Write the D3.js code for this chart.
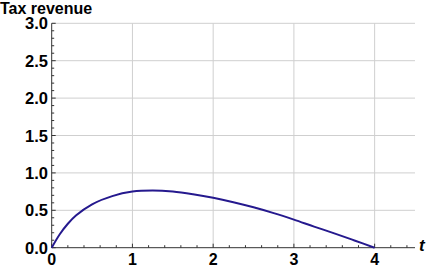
<!DOCTYPE html>
<html>
<head>
<meta charset="utf-8">
<script src="https://cdn.jsdelivr.net/npm/d3@7"></script>
<style>
  body { margin: 0; background: #fff; }
  text { font-family: "Liberation Sans", Arial, sans-serif; }
</style>
</head>
<body>
<script>
// values
const tValues = [0, 0.1, 0.2, 0.3, 0.5, 0.75, 1, 1.25, 1.5, 1.75, 2, 2.25, 2.5, 2.75, 3, 3.25, 3.5, 3.75, 4];
const revenue = [0, 0.18, 0.32, 0.43, 0.58, 0.69, 0.75, 0.764, 0.75, 0.714, 0.667, 0.608, 0.54, 0.462, 0.375, 0.282, 0.192, 0.097, 0];
const xTicks = [0, 1, 2, 3, 4];
const yTicks = [0, 0.5, 1, 1.5, 2, 2.5, 3];

const width = 431, height = 267;
const svg = d3.select("body").append("svg")
  .attr("width", width)
  .attr("height", height);

const x = d3.scaleLinear().domain([0, 4.5]).range([51.7, 415]);
const y = d3.scaleLinear().domain([0, 3]).range([247.7, 23.3]);

// grid
svg.append("g").selectAll("line")
  .data(xTicks.slice(1))
  .join("line")
  .attr("x1", d => x(d)).attr("x2", d => x(d))
  .attr("y1", y(0)).attr("y2", y(3))
  .attr("stroke", "#cfcfcf").attr("stroke-width", 1);

svg.append("g").selectAll("line")
  .data(yTicks.slice(1))
  .join("line")
  .attr("x1", x(0)).attr("x2", x(4.5))
  .attr("y1", d => y(d)).attr("y2", d => y(d))
  .attr("stroke", "#cfcfcf").attr("stroke-width", 1);

// axes
const axisColor = "#333";
svg.append("line")
  .attr("x1", x(0)).attr("x2", x(4.5))
  .attr("y1", y(0)).attr("y2", y(0))
  .attr("stroke", axisColor);
svg.append("line")
  .attr("x1", x(0)).attr("x2", x(0))
  .attr("y1", y(0)).attr("y2", y(3))
  .attr("stroke", axisColor);

// ticks, pointing inward
const xMinor = d3.range(0, 23).map(i => i / 5);
svg.append("g").selectAll("line")
  .data(xMinor)
  .join("line")
  .attr("x1", d => x(d)).attr("x2", d => x(d))
  .attr("y1", y(0))
  .attr("y2", (d, i) => y(0) - (i % 5 === 0 ? 4 : 2.5))
  .attr("stroke", axisColor);

const yMinor = d3.range(0, 31).map(i => i / 10);
svg.append("g").selectAll("line")
  .data(yMinor)
  .join("line")
  .attr("y1", d => y(d)).attr("y2", d => y(d))
  .attr("x1", x(0))
  .attr("x2", (d, i) => x(0) + (i % 5 === 0 ? 4 : 2.5))
  .attr("stroke", axisColor);

// tick labels
svg.append("g").selectAll("text")
  .data(xTicks)
  .join("text")
  .attr("x", d => x(d))
  .attr("y", 265)
  .attr("text-anchor", "middle")
  .attr("font-size", 16)
  .attr("font-weight", "bold")
  .text(d => d);

svg.append("g").selectAll("text")
  .data(yTicks)
  .join("text")
  .attr("x", 48)
  .attr("y", d => y(d) + 6)
  .attr("text-anchor", "end")
  .attr("font-size", 16.5)
  .attr("font-weight", "bold")
  .text(d => d.toFixed(1));

// axis labels
svg.append("text")
  .attr("x", 0).attr("y", 14)
  .attr("font-size", 16)
  .attr("font-weight", "bold")
  .text("Tax revenue");

svg.append("text")
  .attr("x", 419).attr("y", 251)
  .attr("font-size", 17)
  .attr("font-style", "italic")
  .attr("font-weight", "bold")
  .text("t");

// curve
const line = d3.line()
  .x((d, i) => x(tValues[i]))
  .y(d => y(d))
  .curve(d3.curveCatmullRom);

svg.append("path")
  .datum(revenue)
  .attr("d", line)
  .attr("fill", "none")
  .attr("stroke", "#25198e")
  .attr("stroke-width", 2);
</script>
</body>
</html>
